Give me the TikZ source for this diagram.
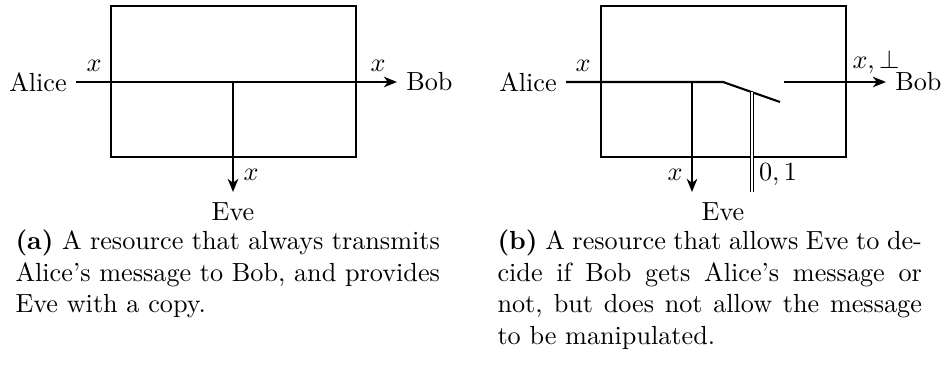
\documentclass[tikz,border=0pt]{standalone}
\usetikzlibrary{arrows.meta}
\begin{document}
\begin{tikzpicture}[x=0.3817pt,y=-0.3817pt,
  wire/.style={thick},
  arr/.style={thick,-{Stealth[length=5pt,width=4pt,inset=1.5pt]}},
  boxstyle/.style={thick},
  capt/.style={text width=162pt,align=justify,inner sep=0pt,anchor=base west},
  lab/.style={inner sep=1pt}]
\useasboundingbox (0,0) rectangle (946,372);
% ---------- (a) ----------
\draw[boxstyle] (111,6) rectangle (356,157);
\node[anchor=east] (aliceA) at (76,82) {Alice};
\node[anchor=west] (bobA) at (397,82) {Bob};
\node (eveA) at (233,212) {Eve};
\coordinate (splitA) at (233,82);
\coordinate (outA) at (233,192);
\draw[arr] (aliceA.east) -- (bobA.west);
\draw[arr] (splitA) -- (outA);
\node[lab] (xa1) at (94,66) {$x$};
\node[lab] (xa2) at (378,66) {$x$};
\node[lab] (xa3) at (251,175) {$x$};
% ---------- (b) ----------
\draw[boxstyle] (601,6) rectangle (846,157);
\node[anchor=east] (aliceB) at (566,82) {Alice};
\node[anchor=west] (bobB) at (886,82) {Bob};
\node (eveB) at (723,212) {Eve};
\coordinate (splitB) at (692,82);
\coordinate (outB) at (692,192);
\coordinate (swA) at (723,82);
\coordinate (swB) at (780,102);
\coordinate (swC) at (784,82);
\coordinate (ctlTop) at (752,92.2);
\coordinate (ctlBot) at (752,192);
\draw[wire] (aliceB.east) -- (swA) -- (swB);
\draw[arr] (swC) -- (bobB.west);
\draw[arr] (splitB) -- (outB);
\draw[line width=0.45pt,double,double distance=0.9pt] (ctlTop) -- (ctlBot);
\node[lab] (xb1) at (583,66) {$x$};
\node[lab] (xb2) at (876,62) {$x,\perp$};
\node[lab] (xb3) at (675,175) {$x$};
\node[lab] (ctl) at (778,175) {$0,1$};
% ---------- captions ----------
\node[capt] (captA) at (15,250) {\textbf{(a)} A resource that always transmits Alice's message to Bob, and provides Eve with a copy.};
\node[capt] (captB) at (497,250) {\textbf{(b)} A resource that allows Eve to decide if Bob gets Alice's message or not, but does not allow the message to be manipulated.};
\end{tikzpicture}
\end{document}
